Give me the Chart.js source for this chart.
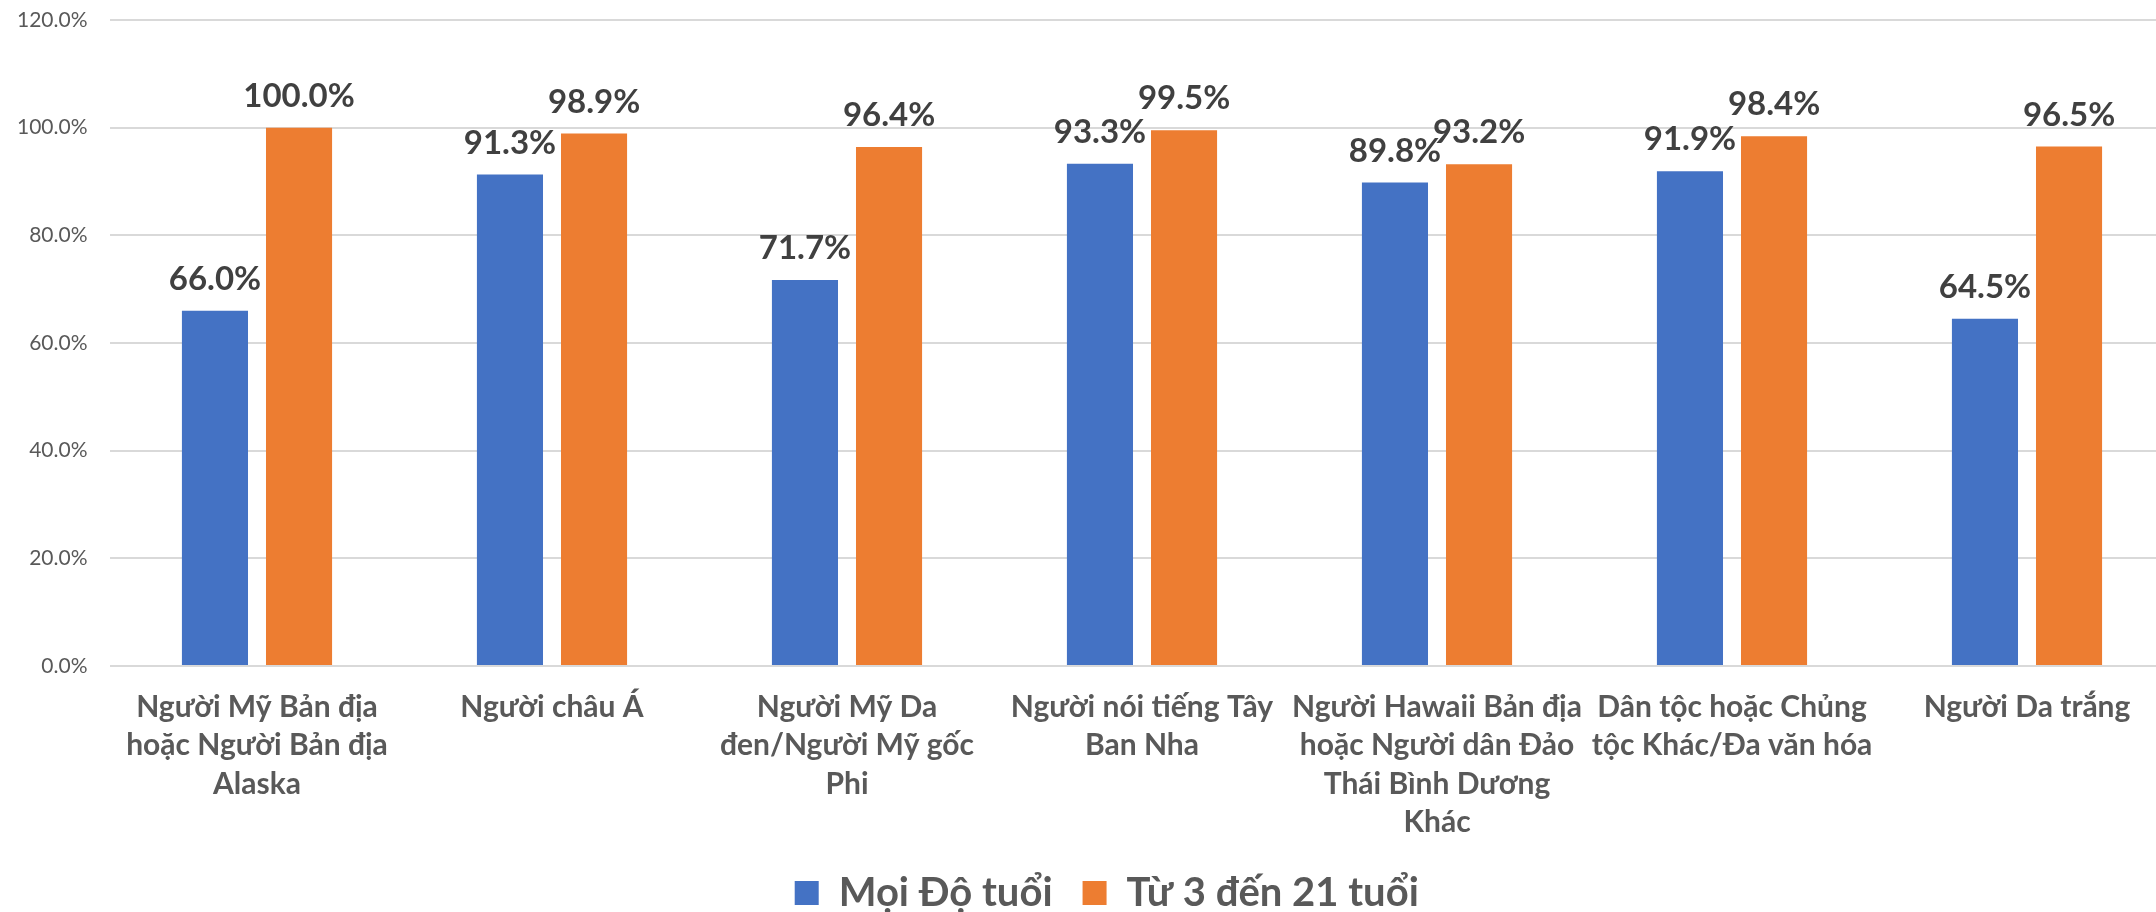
<!DOCTYPE html>
<html>
<head>
<meta charset="utf-8">
<script src="https://cdn.jsdelivr.net/npm/chart.js@4/dist/chart.umd.min.js"></script>
<style>
  html, body { margin: 0; padding: 0; background: #ffffff; overflow: hidden; }
  #wrap { position: absolute; left: 0; top: 0; width: 2212px; height: 923px; }
</style>
</head>
<body>
<div id="wrap"><canvas id="c" width="2212" height="923"></canvas></div>
<script>
const categories = [
  ["Người Mỹ Bản địa", "hoặc Người Bản địa", "Alaska"],
  ["Người châu Á"],
  ["Người Mỹ Da", "đen/Người Mỹ gốc", "Phi"],
  ["Người nói tiếng Tây", "Ban Nha"],
  ["Người Hawaii Bản địa", "hoặc Người dân Đảo", "Thái Bình Dương", "Khác"],
  ["Dân tộc hoặc Chủng", "tộc Khác/Đa văn hóa"],
  ["Người Da trắng"]
];
const seriesNames = ["Mọi Độ tuổi", "Từ 3 đến 21 tuổi"];
const allAges = [66.0, 91.3, 71.7, 93.3, 89.8, 91.9, 64.5];
const ages3to21 = [100.0, 98.9, 96.4, 99.5, 93.2, 98.4, 96.5];
const yMin = 0, yMax = 120, yStep = 20;

const FONT = "Lato, 'Open Sans', 'DejaVu Sans', sans-serif";

const valueLabels = {
  id: 'valueLabels',
  afterDatasetsDraw(chart) {
    const ctx = chart.ctx;
    ctx.save();
    ctx.font = "bold 33px " + FONT;
    ctx.fillStyle = "#404040";
    ctx.textAlign = "center";
    ctx.textBaseline = "alphabetic";
    chart.data.datasets.forEach((ds, di) => {
      const meta = chart.getDatasetMeta(di);
      meta.data.forEach((el, i) => {
        ctx.fillText(ds.data[i].toFixed(1) + "%", el.x, el.y - 21);
      });
    });
    ctx.restore();
  }
};

// nudge the legend block so it is centred like the original
const legendShift = {
  id: 'legendShift',
  afterLayout(chart) {
    if (chart.legend) chart.legend.left += 24;
  }
};

new Chart(document.getElementById('c'), {
  type: 'bar',
  data: {
    labels: categories,
    datasets: [
      { label: seriesNames[0], data: allAges, backgroundColor: '#4472C4',
        categoryPercentage: 0.57, barPercentage: 0.786 },
      { label: seriesNames[1], data: ages3to21, backgroundColor: '#ED7D31',
        categoryPercentage: 0.57, barPercentage: 0.786 }
    ]
  },
  options: {
    responsive: false,
    animation: false,
    layout: { padding: { left: 15, right: 37.5, top: 20, bottom: 0 } },
    plugins: {
      tooltip: { enabled: false },
      legend: {
        position: 'bottom',
        labels: {
          boxWidth: 24, boxHeight: 24, padding: 30,
          color: '#595959',
          font: { family: FONT, size: 40, weight: 'bold' }
        }
      }
    },
    scales: {
      x: {
        grid: { display: false },
        border: { display: false },
        ticks: {
          color: '#595959',
          padding: 14,
          maxRotation: 0, autoSkip: false,
          font: { family: FONT, size: 30, weight: 'bold', lineHeight: 1.28 }
        },
        afterFit(scale) { scale.height = 177; }
      },
      y: {
        min: yMin, max: yMax,
        border: { display: false },
        grid: { color: '#d9d9d9', lineWidth: 2, drawTicks: false },
        ticks: {
          stepSize: yStep,
          color: '#595959',
          padding: 22,
          font: { family: FONT, size: 21 },
          callback: (v) => v.toFixed(1) + '%'
        },
        afterFit(scale) { scale.width = 94.5; scale.paddingTop = 0; }
      }
    }
  },
  plugins: [valueLabels, legendShift]
});
</script>
</body>
</html>
